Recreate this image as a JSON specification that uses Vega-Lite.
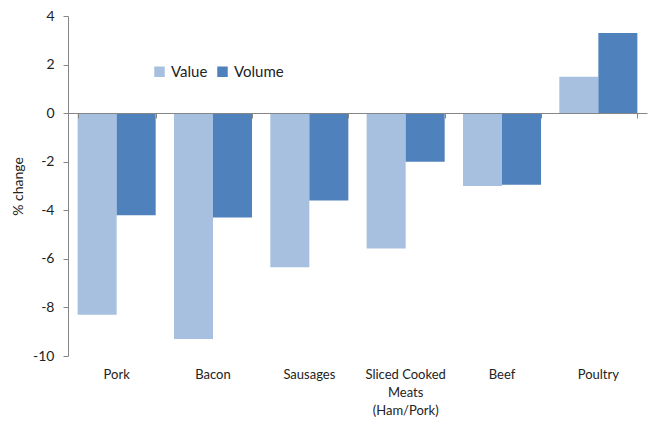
{
  "$schema": "https://vega.github.io/schema/vega-lite/v6.json",
  "width": 579,
  "height": 340,
  "autosize": {"type": "none"},
  "padding": {"left": 68, "top": 16, "right": 6, "bottom": 65},
  "background": "white",
  "config": {
    "view": {"stroke": null},
    "font": "Lato",
    "axis": {"labelFont": "Lato", "titleFont": "Lato", "labelColor": "#222", "titleColor": "#222", "grid": false}
  },
  "data": {
    "values": [
      {"category": "Pork", "series": "Value", "pct": -8.3},
      {"category": "Pork", "series": "Volume", "pct": -4.2},
      {"category": "Bacon", "series": "Value", "pct": -9.3},
      {"category": "Bacon", "series": "Volume", "pct": -4.3},
      {"category": "Sausages", "series": "Value", "pct": -6.35},
      {"category": "Sausages", "series": "Volume", "pct": -3.6},
      {"category": "Sliced Cooked Meats (Ham/Pork)", "series": "Value", "pct": -5.57},
      {"category": "Sliced Cooked Meats (Ham/Pork)", "series": "Volume", "pct": -2.0},
      {"category": "Beef", "series": "Value", "pct": -3.0},
      {"category": "Beef", "series": "Volume", "pct": -2.95},
      {"category": "Poultry", "series": "Value", "pct": 1.5},
      {"category": "Poultry", "series": "Volume", "pct": 3.3}
    ]
  },
  "layer": [
    {
      "mark": {"type": "bar"},
      "encoding": {
        "x": {
          "field": "category", "type": "nominal", "sort": null,
          "scale": {"paddingInner": 0.19, "paddingOuter": 0.1},
          "axis": {
            "orient": "bottom", "title": null, "domain": false, "ticks": false,
            "labelAngle": 0, "labelPadding": 12, "labelFontSize": 13, "labelLineHeight": 18,
            "labelExpr": "datum.value == 'Sliced Cooked Meats (Ham/Pork)' ? ['Sliced Cooked', 'Meats', '(Ham/Pork)'] : datum.value"
          }
        },
        "xOffset": {"field": "series", "type": "nominal", "sort": ["Value", "Volume"]},
        "y": {
          "field": "pct", "type": "quantitative",
          "scale": {"domain": [-10, 4], "nice": false},
          "axis": {
            "title": "% change", "titleFontSize": 14, "titleFontWeight": "normal", "titlePadding": 7,
            "values": [-10, -8, -6, -4, -2, 0, 2, 4],
            "labelExpr": "'' + datum.value",
            "labelFontSize": 14, "labelPadding": 9, "tickSize": 5,
            "domainColor": "#868686", "tickColor": "#868686"
          }
        },
        "color": {
          "field": "series", "type": "nominal",
          "scale": {"domain": ["Value", "Volume"], "range": ["#A7C0DF", "#4F81BD"]},
          "legend": {
            "orient": "none", "legendX": 84, "legendY": 48, "direction": "horizontal",
            "title": null, "symbolType": "square", "symbolSize": 110, "symbolStrokeWidth": 0,
            "labelFontSize": 15, "labelFont": "Lato", "labelColor": "#222", "columnPadding": 7, "labelOffset": 4
          }
        }
      }
    },
    {
      "mark": {"type": "bar", "opacity": 0},
      "encoding": {
        "x": {
          "field": "category", "type": "nominal", "sort": null,
          "axis": {
            "orient": "bottom", "offset": -243, "labels": false, "title": null,
            "tickBand": "extent", "tickSize": 5, "domainColor": "#868686", "tickColor": "#868686", "zindex": 1
          }
        }
      }
    }
  ],
  "resolve": {"axis": {"x": "independent"}}
}
